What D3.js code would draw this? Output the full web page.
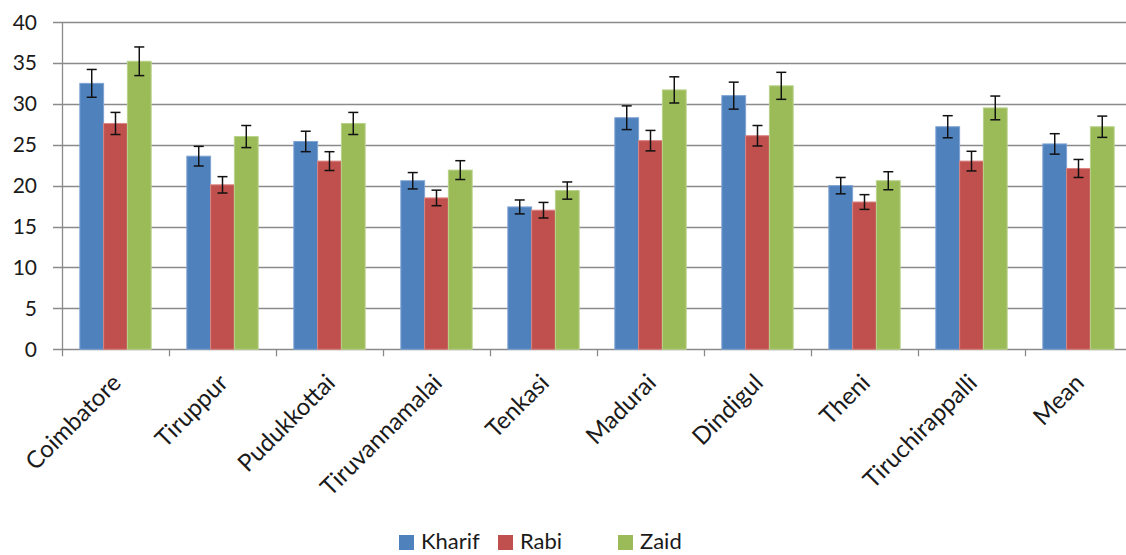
<!DOCTYPE html>
<html>
<head>
<meta charset="utf-8">
<script src="https://cdn.jsdelivr.net/npm/d3@7"></script>
<style>
  body { margin: 0; background: #fff; }
  svg { display: block; font-family: Lato, "Open Sans", sans-serif; }
</style>
</head>
<body>
<div class="chart"></div>
<script>
const districts = ["Coimbatore", "Tiruppur", "Pudukkottai", "Tiruvannamalai", "Tenkasi",
  "Madurai", "Dindigul", "Theni", "Tiruchirappalli", "Mean"];
const seasons = ["Kharif", "Rabi", "Zaid"];
const colors = ["#4F81BD", "#C0504D", "#9BBB59"];
const edges = ["#7FA3D3", "#D98482", "#B9D28A"];

const kharif = [32.5, 23.6, 25.4, 20.6, 17.4, 28.3, 31.0, 20.0, 27.2, 25.1];
const rabi = [27.6, 20.1, 23.0, 18.5, 17.0, 25.5, 26.1, 18.0, 23.0, 22.1];
const zaid = [35.2, 26.0, 27.6, 21.9, 19.4, 31.7, 32.2, 20.6, 29.5, 27.2];

const kharifErr = [1.7, 1.2, 1.25, 1.0, 0.85, 1.45, 1.65, 1.0, 1.35, 1.25];
const rabiErr = [1.35, 1.0, 1.15, 0.95, 0.95, 1.25, 1.25, 0.9, 1.2, 1.1];
const zaidErr = [1.75, 1.35, 1.35, 1.15, 1.05, 1.6, 1.65, 1.1, 1.45, 1.3];

const yTicks = [0, 5, 10, 15, 20, 25, 30, 35, 40];

const values = [kharif, rabi, zaid];
const errors = [kharifErr, rabiErr, zaidErr];

const width = 1126, height = 555;
const margin = { top: 22, left: 62, bottom: 206 };
const plotBottom = height - margin.bottom + 0.3;

const svg = d3.select(".chart").append("svg")
  .attr("width", width)
  .attr("height", height);

const x = d3.scaleBand()
  .domain(districts)
  .range([margin.left, margin.left + 107 * districts.length]);

const xSub = d3.scaleBand()
  .domain(seasons)
  .range([x.bandwidth() * 0.75 / 4.5, x.bandwidth() * (1 - 0.75 / 4.5)]);

const y = d3.scaleLinear()
  .domain([0, 40])
  .range([plotBottom, margin.top]);

// gridlines
svg.append("g")
  .selectAll("line")
  .data(yTicks)
  .join("line")
  .attr("x1", margin.left - 9)
  .attr("x2", x.range()[1])
  .attr("y1", d => Math.round(y(d)) + 0.5)
  .attr("y2", d => Math.round(y(d)) + 0.5)
  .attr("stroke", "#8a8a8a")
  .attr("stroke-width", 1.3);

// y labels
svg.append("g")
  .selectAll("text")
  .data(yTicks)
  .join("text")
  .attr("x", 37)
  .attr("y", d => y(d))
  .attr("dy", "0.36em")
  .attr("text-anchor", "end")
  .attr("font-size", 21)
  .attr("fill", "#1a1a1a")
  .text(d => d);

// bars
districts.forEach((dist, i) => {
  const g = svg.append("g").attr("transform", "translate(" + x(dist) + ",0)");
  seasons.forEach((s, j) => {
    const v = values[j][i], e = errors[j][i];
    g.append("rect")
      .attr("x", xSub(s))
      .attr("y", y(v))
      .attr("width", xSub.bandwidth())
      .attr("height", y(0) - y(v))
      .attr("fill", colors[j])
      .attr("stroke", edges[j])
      .attr("stroke-width", 1);
    const cx = xSub(s) + xSub.bandwidth() / 2;
    g.append("line")
      .attr("x1", cx).attr("x2", cx)
      .attr("y1", y(v + e)).attr("y2", y(v - e))
      .attr("stroke", "#111").attr("stroke-width", 1.5);
    [v + e, v - e].forEach(t => {
      g.append("line")
        .attr("x1", cx - 5).attr("x2", cx + 5)
        .attr("y1", y(t)).attr("y2", y(t))
        .attr("stroke", "#111").attr("stroke-width", 1.5);
    });
  });
});

// axes lines
svg.append("line")
  .attr("x1", margin.left + 0.5).attr("x2", margin.left + 0.5)
  .attr("y1", margin.top).attr("y2", plotBottom)
  .attr("stroke", "#8a8a8a").attr("stroke-width", 1.3);

svg.append("g")
  .selectAll("line")
  .data(districts)
  .join("line")
  .attr("x1", d => Math.round(x(d)) + 0.5)
  .attr("x2", d => Math.round(x(d)) + 0.5)
  .attr("y1", plotBottom)
  .attr("y2", plotBottom + 7)
  .attr("stroke", "#8a8a8a")
  .attr("stroke-width", 1.3);

// x labels
svg.append("g")
  .selectAll("text")
  .data(districts)
  .join("text")
  .attr("text-anchor", "end")
  .attr("font-size", 24)
  .attr("fill", "#1a1a1a")
  .attr("transform", d => "translate(" + (x(d) + x.bandwidth() / 2 + 7) + "," + (plotBottom + 35) + ") rotate(-45)")
  .text(d => d);

// legend
const legendX = [399, 498, 618];
const legend = svg.append("g");
seasons.forEach((s, j) => {
  legend.append("rect")
    .attr("x", legendX[j]).attr("y", 535)
    .attr("width", 15).attr("height", 15)
    .attr("fill", colors[j]);
  legend.append("text")
    .attr("x", legendX[j] + 22).attr("y", 541)
    .attr("dy", "0.36em")
    .attr("font-size", 22)
    .attr("fill", "#1a1a1a")
    .text(s);
});
</script>
</body>
</html>
